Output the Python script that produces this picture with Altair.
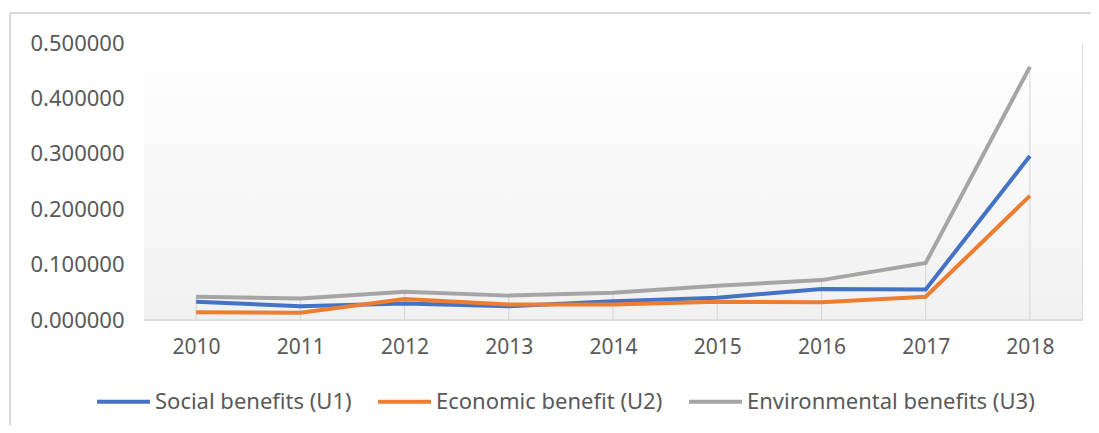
import altair as alt
import pandas as pd

years = ["2010", "2011", "2012", "2013", "2014", "2015", "2016", "2017", "2018"]
social = [0.033, 0.025, 0.030, 0.025, 0.034, 0.040, 0.056, 0.055, 0.296]
economic = [0.014, 0.013, 0.038, 0.028, 0.028, 0.033, 0.032, 0.042, 0.224]
environmental = [0.042, 0.039, 0.051, 0.044, 0.049, 0.062, 0.072, 0.103, 0.457]
series_names = ["Social benefits (U1)", "Economic benefit (U2)", "Environmental benefits (U3)"]
series_colors = ["#4472C4", "#ED7D31", "#A5A5A5"]
y_ticks = [0.0, 0.1, 0.2, 0.3, 0.4, 0.5]

rows = []
for name, vals in zip(series_names, [social, economic, environmental]):
    for yr, v in zip(years, vals):
        rows.append({"year": yr, "value": v, "series": name})
df = pd.DataFrame(rows)
drop_df = pd.DataFrame({"year": years, "value": environmental})
one = pd.DataFrame({"a": [0]})

W, H = 938, 277
FONT = "Noto Sans"
TXT = "#595959"

xscale = alt.Scale(type="point", domain=years, padding=0.5)
xenc = alt.X("year:N", scale=xscale, sort=years,
             axis=alt.Axis(title=None, labelAngle=0, domain=False, ticks=False, grid=False,
                           labelFontSize=21, labelColor=TXT, labelFont=FONT, labelPadding=16))
yscale = alt.Scale(domain=[0, 0.5], nice=False)
yaxis = alt.Axis(title=None, values=y_ticks, format=".6f", domain=False, ticks=False,
                 grid=False, labelFontSize=22, labelColor=TXT, labelFont=FONT,
                 labelPadding=20)
yenc = alt.Y("value:Q", scale=yscale, axis=yaxis)

bg = alt.Chart(one).mark_rect(
    fill=alt.Gradient(gradient="linear",
                      stops=[alt.GradientStop(color="#ffffff", offset=0),
                             alt.GradientStop(color="#f1f1f1", offset=1)],
                      x1=0, x2=0, y1=0, y2=1)
).encode(x=alt.value(0), x2=alt.value(W), y=alt.value(0), y2=alt.value(H))

border = alt.Chart(one).mark_rule(color="#d9d9d9", strokeWidth=2).encode(
    x=alt.value(-134), x2=alt.value(1200), y=alt.value(-30))
border_l = alt.Chart(one).mark_rule(color="#d9d9d9", strokeWidth=2).encode(
    x=alt.value(-134), y=alt.value(-30), y2=alt.value(500))

drops = alt.Chart(drop_df).mark_rule(color="#d4d4d4", strokeWidth=1).encode(
    x=xenc, y=yenc, y2=alt.value(H))
base = alt.Chart(one).mark_rule(color="#d9d9d9", strokeWidth=1.5).encode(
    x=alt.value(0), x2=alt.value(W), y=alt.value(H))

lines = alt.Chart(df).mark_line(strokeWidth=4).encode(
    x=xenc,
    y=yenc,
    color=alt.Color("series:N", scale=alt.Scale(domain=series_names, range=series_colors),
                    legend=alt.Legend(title=None, orient="none", direction="horizontal",
                                      legendX=-49, legendY=330,
                                      symbolType="stroke", symbolSize=2800, symbolStrokeWidth=4,
                                      labelFontSize=22, labelColor=TXT, labelFont=FONT,
                                      labelLimit=0, labelOffset=3, columnPadding=18)),
    order=alt.Order("series_order:Q")
).transform_calculate(series_order="indexof(['Social benefits (U1)','Economic benefit (U2)','Environmental benefits (U3)'], datum.series)")

chart = alt.layer(bg, border, border_l, drops, base, lines).properties(
    width=W, height=H,
    autosize=alt.AutoSizeParams(type="none"),
    padding={"left": 136, "top": 35, "right": 9, "bottom": 105},
).configure_view(stroke=None).configure(background="white")

chart.save("out.html", embed_options={"renderer": "svg", "actions": False})
